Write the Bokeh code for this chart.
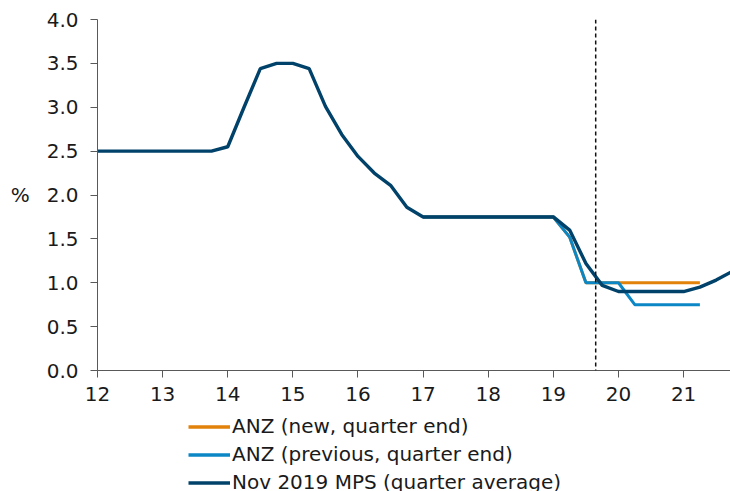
from bokeh.plotting import figure
from bokeh.layouts import column
from bokeh.models import Range1d, Legend, LegendItem, Span, FixedTicker
from bokeh.embed import file_html
from bokeh.resources import INLINE

# Nov 2019 MPS (quarter average)
mps_x = [12.0, 12.25, 12.5, 12.75, 13.0, 13.25, 13.5, 13.75,
         14.0, 14.25, 14.5, 14.75, 15.0, 15.25, 15.5, 15.75,
         16.0, 16.25, 16.5, 16.75, 17.0, 17.25, 17.5, 17.75,
         18.0, 18.25, 18.5, 18.75, 19.0, 19.25, 19.5, 19.75,
         20.0, 20.25, 20.5, 20.75, 21.0, 21.25, 21.5, 21.75]
mps_y = [2.5, 2.5, 2.5, 2.5, 2.5, 2.5, 2.5, 2.5,
         2.55, 3.0, 3.44, 3.5, 3.5, 3.44, 3.01, 2.69,
         2.44, 2.25, 2.11, 1.86, 1.75, 1.75, 1.75, 1.75,
         1.75, 1.75, 1.75, 1.75, 1.75, 1.60, 1.22, 0.97,
         0.90, 0.90, 0.90, 0.90, 0.90, 0.95, 1.03, 1.13]

# ANZ forecasts (quarter end)
anz_x = [17.0, 17.25, 17.5, 17.75, 18.0, 18.25, 18.5, 18.75,
         19.0, 19.25, 19.5, 19.75, 20.0, 20.25, 20.5, 20.75, 21.0, 21.25]
anz_prev_y = [1.75, 1.75, 1.75, 1.75, 1.75, 1.75, 1.75, 1.75,
              1.75, 1.52, 1.0, 1.0, 1.0, 0.75, 0.75, 0.75, 0.75, 0.75]
anz_new_y = [1.75, 1.75, 1.75, 1.75, 1.75, 1.75, 1.75, 1.75,
             1.75, 1.52, 1.0, 1.0, 1.0, 1.0, 1.0, 1.0, 1.0, 1.0]

x_ticks = [12, 13, 14, 15, 16, 17, 18, 19, 20, 21]
y_ticks = [0.0, 0.5, 1.0, 1.5, 2.0, 2.5, 3.0, 3.5, 4.0]
vline_x = 19.65

series_labels = ["ANZ (new, quarter end)", "ANZ (previous, quarter end)",
                 "Nov 2019 MPS (quarter average)"]
series_colors = ["#E2820A", "#0C87C6", "#00426A"]

FONT = "DejaVu Sans"
AXIS_COL = "#595959"
TEXT_COL = "#1a1a1a"
FS = "20px"

p = figure(width=730, height=406, output_backend="svg", toolbar_location=None,
           x_range=Range1d(12, 21.72), y_range=Range1d(0, 4.0),
           min_border_left=97, min_border_right=0, min_border_top=19,
           min_border_bottom=36)
p.outline_line_color = None
p.grid.visible = False

p.line(anz_x, anz_new_y, line_color=series_colors[0], line_width=3)
p.line(anz_x, anz_prev_y, line_color=series_colors[1], line_width=3)
p.line(mps_x, mps_y, line_color=series_colors[2], line_width=3.4)

p.add_layout(Span(location=vline_x, dimension="height", line_color="#111111",
                  line_width=1.5, line_dash="4 3"))

for ax in (p.xaxis[0], p.yaxis[0]):
    ax.axis_line_color = AXIS_COL
    ax.major_tick_line_color = AXIS_COL
    ax.minor_tick_line_color = None
    ax.major_tick_out = 7
    ax.major_tick_in = 0
    ax.major_label_text_font = FONT
    ax.major_label_text_font_size = FS
    ax.major_label_text_color = TEXT_COL

p.xaxis[0].ticker = FixedTicker(ticks=x_ticks)
p.yaxis[0].ticker = FixedTicker(ticks=y_ticks)
p.yaxis[0].major_label_overrides = {t: f"{t:.1f}" for t in y_ticks}
p.xaxis[0].major_label_standoff = 9
p.yaxis[0].major_label_standoff = 12
p.yaxis[0].axis_label = "%"
p.yaxis[0].axis_label_orientation = "horizontal"
p.yaxis[0].axis_label_text_font = FONT
p.yaxis[0].axis_label_text_font_size = FS
p.yaxis[0].axis_label_text_font_style = "normal"
p.yaxis[0].axis_label_text_color = TEXT_COL
p.yaxis[0].axis_label_standoff = 14

# legend panel below the chart (placeholder renderers hold a single NaN point)
lg = figure(width=730, height=92, output_backend="svg", toolbar_location=None,
            x_range=Range1d(0, 1), y_range=Range1d(0, 1),
            min_border=0)
lg.axis.visible = False
lg.grid.visible = False
lg.outline_line_color = None
items = []
for lab, col in zip(series_labels, series_colors):
    r = lg.line([float("nan")], [float("nan")], line_color=col, line_width=3.4)
    items.append(LegendItem(label=lab, renderers=[r]))

legend = Legend(items=items, location=(91, 4), orientation="vertical")
legend.border_line_color = None
legend.background_fill_alpha = 0
legend.padding = 0
legend.margin = 0
legend.spacing = 4
legend.glyph_width = 42
legend.glyph_height = 21
legend.label_height = 21
legend.label_standoff = 2
legend.label_text_font = FONT
legend.label_text_font_size = FS
legend.label_text_color = TEXT_COL
lg.add_layout(legend, "center")

layout = column(p, lg, spacing=0)
open("out.html", "w").write(file_html(layout, INLINE))
